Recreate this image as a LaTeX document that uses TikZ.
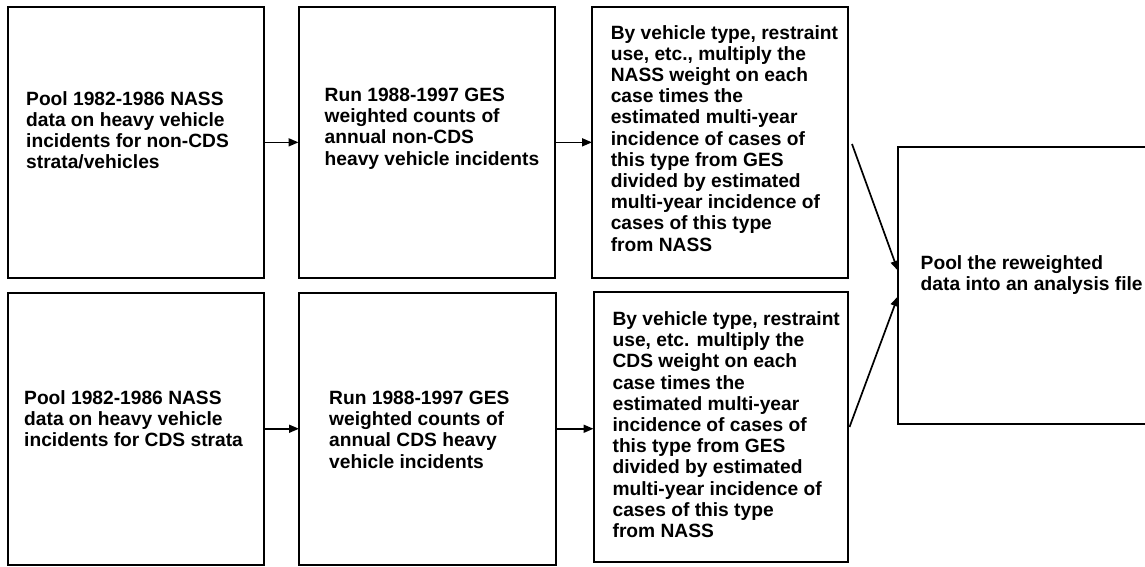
\documentclass[tikz,border=0pt]{standalone}
\usepackage{fontspec}
\setmainfont{Liberation Sans}
\usetikzlibrary{arrows.meta,calc}
\begin{document}
\begin{tikzpicture}[x=1pt,y=-1pt,
  box/.style={draw,line width=2pt,inner sep=0pt,outer sep=0pt,anchor=north west},
  txt/.style={anchor=base west,align=left,inner sep=0pt,font=\fontsize{19.2}{21.2}\selectfont\bfseries},
  arr/.style={line width=1.7pt,-{Triangle[length=10pt,width=8pt]}}]
\useasboundingbox (0,0) rectangle (1145,567);
\clip (0,0) rectangle (1145,567);
% boxes
\node[box, minimum width=256.3pt, minimum height=271.3pt] (A1) at (7.7,6.7) {};
\node[box, minimum width=256pt, minimum height=271.3pt] (B1) at (298.5,6.7) {};
\node[box, minimum width=256pt, minimum height=271pt] (C1) at (592,7) {};
\node[box, minimum width=256.5pt, minimum height=271.5pt] (A2) at (7.5,293) {};
\node[box, minimum width=257pt, minimum height=271.5pt] (B2) at (299,293) {};
\node[box, minimum width=254.5pt, minimum height=270pt] (C2) at (593.5,292) {};
\node[box, minimum width=270pt, minimum height=277.5pt] (D) at (898,146.5) {};
% texts (anchored at the baseline of the last line)
\node[txt] (tA1) at (26,168.6) {Pool 1982-1986 NASS\\data on heavy vehicle\\incidents for non-CDS\\strata/vehicles};
\node[txt] (tB1) at (324.5,165.1) {Run 1988-1997 GES\\weighted counts of\\annual non-CDS\\heavy vehicle incidents};
\node[txt] (tC1) at (610.6,251) {By vehicle type, restraint\\use, etc., multiply the\\NASS weight on each\\case times the\\estimated multi-year\\incidence of cases of\\this type from GES\\divided by estimated\\multi-year incidence of\\cases of this type\\from NASS};
\node[txt] (tA2) at (24,446.9) {Pool 1982-1986 NASS\\data on heavy vehicle\\incidents for CDS strata};
\node[txt] (tB2) at (329,468.1) {Run 1988-1997 GES\\weighted counts of\\annual CDS heavy\\vehicle incidents};
\node[txt] (tC2) at (612.4,537.5) {By vehicle type, restraint\\use, etc. multiply the\\CDS weight on each\\case times the\\estimated multi-year\\incidence of cases of\\this type from GES\\divided by estimated\\multi-year incidence of\\cases of this type\\from NASS};
\node[txt] (tD) at (920.5,290.7) {Pool the reweighted\\data into an analysis file};
% connectors
\draw[arr] (A1.east) -- (B1.west);
\draw[arr] (B1.east) -- (B1.east -| C1.west);
\draw[arr] (A2.east) -- (B2.west);
\draw[arr] (B2.east) -- (B2.east -| C2.west);
\coordinate (s1) at ($(C1.east)+(4,1.5)$);
\coordinate (s2) at ($(C2.east)+(1.5,0)$);
\draw[arr] (s1) -- ($(D.west)+(0,-14.5)$);
\draw[arr] (s2) -- ($(D.west)+(0,11)$);
\end{tikzpicture}
\end{document}
